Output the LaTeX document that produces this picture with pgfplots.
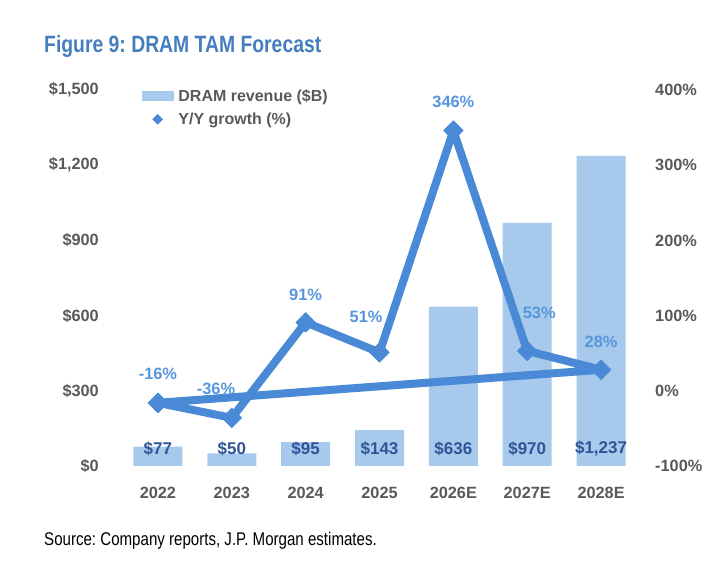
\documentclass[border=0pt]{standalone}
\usepackage{pgfplots}
\pgfplotsset{compat=1.18}
\usepackage{fontspec}
\setmainfont{Liberation Sans}
\newfontfamily\narrowfont{Liberation Sans}[FakeStretch=0.82]
\definecolor{barcol}{RGB}{166,201,236}
\definecolor{linecol}{RGB}{74,137,214}
\definecolor{barlab}{RGB}{47,85,151}
\definecolor{linelab}{RGB}{86,150,220}
\definecolor{titlecol}{RGB}{68,126,190}
\definecolor{txtgrey}{RGB}{89,89,89}
\frenchspacing
\begin{document}
\begin{tikzpicture}[x=1pt,y=1pt]
\useasboundingbox (0,0) rectangle (714,564);
\node[anchor=base west, inner sep=0pt, text=titlecol, font=\narrowfont\bfseries\fontsize{23.6}{28}\selectfont] at (44,511) {Figure 9: DRAM TAM Forecast};
\node[anchor=base west, inner sep=0pt, font=\narrowfont\fontsize{18.4}{22}\selectfont] at (44,18) {Source: Company reports, J.P. Morgan estimates.};

\pgfplotsset{common/.style={at={(121pt,98pt)}, anchor=south west, scale only axis, width=517pt, height=376pt, xmin=-0.5, xmax=6.5, axis line style={draw=none}, tick style={draw=none}, ticklabel style={font=\bfseries\fontsize{16.3}{19}\selectfont, text=txtgrey, inner sep=0pt}, /pgf/number format/assume math mode=true}}

\begin{axis}[common, ymin=0, ymax=1500,
  ytick={0,300,600,900,1200,1500},
  yticklabels={\$0,\$300,\$600,\$900,{\$1,200},{\$1,500}},
  yticklabel shift=22pt,
  xtick={0,1,2,3,4,5,6},
  xticklabels={2022,2023,2024,2025,2026E,2027E,2028E},
  xticklabel shift=21pt]
\addplot[ybar, bar width=49pt, bar shift=0pt, fill=barcol, draw=none] coordinates {(0,77)(1,50)(2,95)(3,143)(4,636)(5,970)(6,1237)};
\addplot[draw=none, mark=none, point meta=explicit symbolic, nodes near coords,
  nodes near coords style={anchor=center, yshift=17pt, font=\bfseries\fontsize{17}{20}\selectfont, text=barlab, inner sep=0pt}]
  coordinates {(0,0) [\$77] (1,0) [\$50] (2,0) [\$95] (3,0) [\$143] (4,0) [\$636] (5,0) [\$970] (6,0) [\$1{,}237]};
\end{axis}

\begin{axis}[common, ymin=-100, ymax=400,
  ytick={-100,0,100,200,300,400},
  yticklabels={-100\%,0\%,100\%,200\%,300\%,400\%},
  axis y line*=right, axis x line=none,
  yticklabel shift=17pt,
  legend style={at={(axis description cs:0.0406,1.007)}, anchor=north west, draw=none, fill=none, inner sep=0pt, outer sep=0pt, row sep=6pt, column sep=3pt, font=\bfseries\fontsize{16}{19}\selectfont, text=txtgrey},
  legend cell align=left]
\addlegendimage{legend image code/.code={\fill[barcol] (0pt,-4.5pt) rectangle (31pt,4.5pt);}}
\addlegendentry{DRAM revenue (\$B)}
\addlegendimage{legend image code/.code={\fill[linecol] (15.5pt,-5pt) -- (20.5pt,0pt) -- (15.5pt,5pt) -- (10.5pt,0pt) -- cycle;}}
\addlegendentry{Y/Y growth (\%)}
\addplot[forget plot, linecol, line width=8pt, line join=round, mark=square*, mark size=7pt, mark options={rotate=45, line width=0.5pt, fill=linecol, draw=linecol}] coordinates {(0,-16)(1,-36)(2,91)(3,51)(4,346)(5,53)(6,28)(0,-16)};
\pgfplotsset{every node/.append style={}}
\node[font=\bfseries\fontsize{16.4}{19}\selectfont, text=linelab] at (axis cs:0,22) {-16\%};
\node[font=\bfseries\fontsize{16.4}{19}\selectfont, text=linelab] at (axis cs:0.787,2) {-36\%};
\node[font=\bfseries\fontsize{16.4}{19}\selectfont, text=linelab] at (axis cs:2,128) {91\%};
\node[font=\bfseries\fontsize{16.4}{19}\selectfont, text=linelab] at (axis cs:2.818,98) {51\%};
\node[font=\bfseries\fontsize{16.4}{19}\selectfont, text=linelab] at (axis cs:4,384) {346\%};
\node[font=\bfseries\fontsize{16.4}{19}\selectfont, text=linelab] at (axis cs:5.162,104) {53\%};
\node[font=\bfseries\fontsize{16.4}{19}\selectfont, text=linelab] at (axis cs:6,64.5) {28\%};
\end{axis}
\end{tikzpicture}
\end{document}
